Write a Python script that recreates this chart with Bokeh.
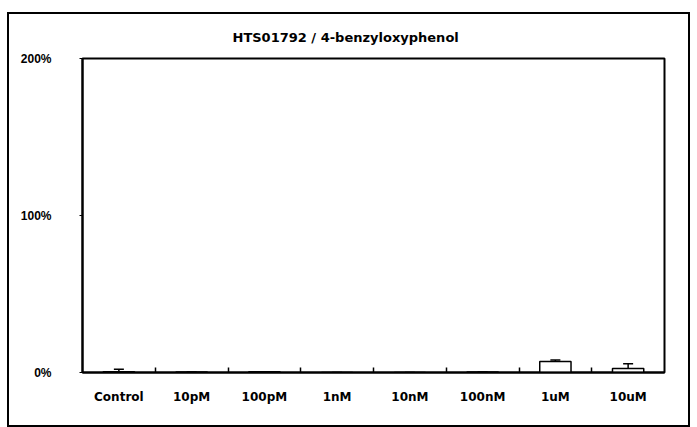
from bokeh.plotting import figure
from bokeh.models import (FixedTicker, Whisker, ColumnDataSource, PrintfTickFormatter,
                          Range1d, Title, TeeHead)
from bokeh.embed import file_html
from bokeh.resources import INLINE

categories = ["Control", "10pM", "100pM", "1nM", "10nM", "100nM", "1uM", "10uM"]
values = [0.5, 0.3, 0.5, 0.0, 0.0, 0.3, 7.0, 2.5]
errors = [1.5, 0.0, 0.0, 0.0, 0.0, 0.0, 1.0, 3.0]
y_ticks = [0, 100, 200]
title_text = "HTS01792 / 4-benzyloxyphenol"

xs = [i + 0.5 for i in range(len(categories))]
src = ColumnDataSource(dict(
    x=xs, top=values,
    upper=[v + e for v, e in zip(values, errors)],
    lower=values,
))

W, H = 683, 415
p = figure(width=W, height=H, output_backend="svg", toolbar_location=None,
           x_range=Range1d(0, len(categories)), y_range=Range1d(0, 200),
           min_border_left=73, min_border_right=28, min_border_top=29, min_border_bottom=57,
           background_fill_color="white", border_fill_color="white")
p.styles = {"border": "2px solid black", "box-sizing": "border-box",
            "margin-left": "7px", "margin-top": "12px"}

p.title = Title(text=title_text, align="left", offset=150, standoff=27,
                text_font="DejaVu Sans", text_font_size="13px",
                text_font_style="bold", text_color="black")

p.vbar(x="x", top="top", width=0.43, bottom=0, source=src,
       fill_color="white", line_color="black", line_width=1.5)
p.add_layout(Whisker(base="x", upper="upper", lower="upper", source=src,
                     line_color="black", line_width=1.5,
                     upper_head=TeeHead(size=10, line_color="black", line_width=1.5),
                     lower_head=None))
p.add_layout(Whisker(base="x", upper="upper", lower="lower", source=src,
                     line_color="black", line_width=1.5,
                     upper_head=None, lower_head=None))

p.xgrid.visible = False
p.ygrid.visible = False
p.outline_line_color = "black"
p.outline_line_width = 2

p.xaxis.ticker = FixedTicker(ticks=xs, minor_ticks=list(range(1, len(categories))))
p.xaxis.major_label_overrides = {x: c for x, c in zip(xs, categories)}
p.xaxis.major_tick_in = 0
p.xaxis.major_tick_out = 0
p.xaxis.minor_tick_in = 5
p.xaxis.minor_tick_out = 0
p.xaxis.minor_tick_line_color = "black"
p.xaxis.minor_tick_line_width = 1.5
p.xaxis.major_label_standoff = 17
p.xaxis.axis_line_width = 2
p.xaxis.axis_line_color = "black"
p.xaxis.major_label_text_font = "DejaVu Sans"

p.yaxis.ticker = FixedTicker(ticks=y_ticks, minor_ticks=[])
p.yaxis.formatter = PrintfTickFormatter(format="%d%%")
p.yaxis.major_tick_in = 0
p.yaxis.major_tick_out = 3
p.yaxis.major_tick_line_color = "black"
p.yaxis.major_label_standoff = 28
p.yaxis.axis_line_width = 2
p.yaxis.axis_line_color = "black"
p.yaxis.major_label_text_font = "Liberation Sans"

for ax in (p.xaxis, p.yaxis):
    ax.major_label_text_font_size = "12px"
    ax.major_label_text_font_style = "bold"
    ax.major_label_text_color = "black"

open("out.html", "w").write(file_html(p, INLINE))
